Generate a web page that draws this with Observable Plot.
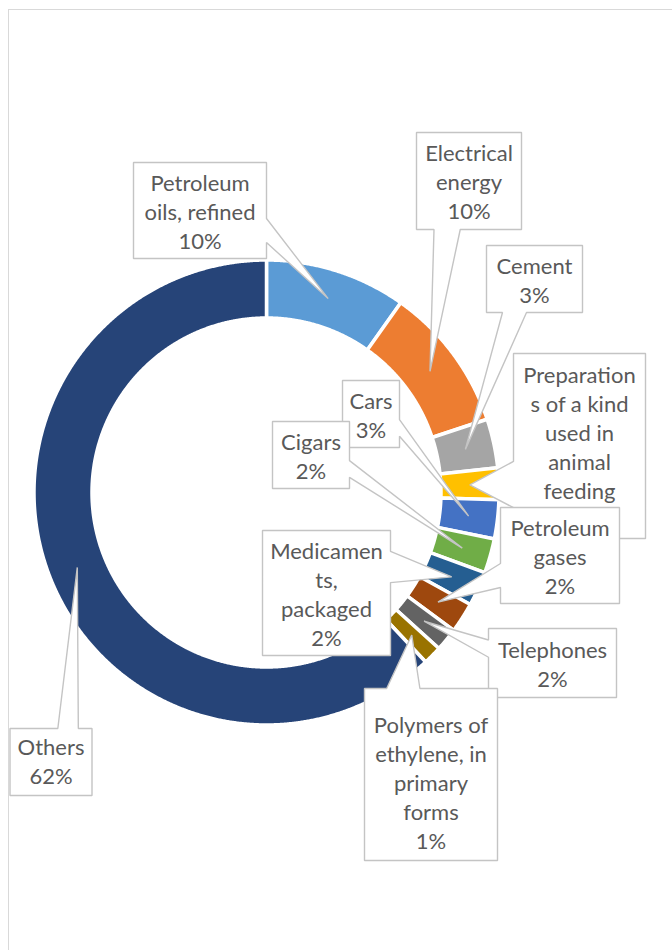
<!DOCTYPE html>
<html><head><meta charset="utf-8">
<script src="https://cdn.jsdelivr.net/npm/d3@7"></script>
<script src="https://cdn.jsdelivr.net/npm/@observablehq/plot@0.6"></script>
<style>
html,body{margin:0;padding:0;background:#fff;}
#wrap{position:relative;width:672px;height:950px;overflow:hidden;}
#frame{position:absolute;left:7.5px;top:8.5px;width:800px;height:1100px;border:1.5px solid #d9d9d9;box-sizing:border-box;}
#chart{position:absolute;left:0;top:0;}
</style></head><body>
<div id="wrap"><div id="frame"></div><div id="chart"></div></div>
<script>
// ---- data ----
const categories = ["Petroleum oils, refined","Electrical energy","Cement","Preparations of a kind used in animal feeding","Cars","Cigars","Medicaments, packaged","Petroleum gases","Telephones","Polymers of ethylene, in primary forms","Others"];
const shares = [9.8, 10.1, 3.4, 2.2, 2.7, 2.4, 2.4, 2.1, 1.6, 1.3, 62.0];
const labelNames = ["Petroleum\noils, refined","Electrical\nenergy","Cement","Preparation\ns of a kind\nused in\nanimal\nfeeding","Cars","Cigars","Medicamen\nts,\npackaged","Petroleum\ngases","Telephones","Polymers of\nethylene, in\nprimary\nforms","Others"];
// the percentage of this label is hidden behind the next callout in the original
const pctHidden = [false, false, false, true, false, false, false, false, false, false, false];
const palette = ["#5B9BD5","#ED7D31","#A5A5A5","#FFC000","#4472C4","#70AD47","#255E91","#9E480E","#636363","#997300","#264478"];

// ---- layout ----
const W = 672, H = 950;
const center = {x: 266, y: 492};
const outerR = 232.5, innerR = 174.5, anchorR = 203.5;
// callout boxes: [left, top, width, height, text shift] in page pixels (manual label placement)
const calloutLayout = [
  [133, 162, 133, 96, 0],
  [416, 132, 105, 97, 0],
  [486, 245, 96, 67, 0],
  [513, 353, 132, 185, 0],
  [342, 380, 57, 67, 0],
  [272, 421, 77, 67, 0],
  [262, 530, 128, 125, 0],
  [500, 507, 119, 96, 0],
  [488, 628, 128, 69, 0],
  [364, 688, 133, 172, 7],
  [9.5, 728, 82, 67, -2]
];

const slices = categories.map((name, i) => ({name, share: shares[i], i}));
const arcs = d3.pie().sort(null).value(d => d.share)(slices);
const pt = (a, r) => [center.x + r * Math.sin(a), center.y - r * Math.cos(a)];

const ringPts = arcs.flatMap(a => {
  const n = Math.max(4, Math.ceil((a.endAngle - a.startAngle) / (Math.PI / 720)));
  const out = [];
  for (let k = 0; k <= n; k++) out.push(pt(a.startAngle + (a.endAngle - a.startAngle) * k / n, outerR));
  for (let k = n; k >= 0; k--) out.push(pt(a.startAngle + (a.endAngle - a.startAngle) * k / n, innerR));
  return out.map(([x, y]) => ({x, y, name: a.data.name}));
});

function callout(l, t, w, h, tx, ty) {
  const hc = l + w / 2, vc = t + h / 2;
  const dxPos = tx - hc, dyPos = ty - vc;
  const dq = dxPos * h / w;
  const dz = Math.abs(dyPos) - Math.abs(dq);
  const x1 = l + w * (dxPos > 0 ? 7 : 2) / 12, x2 = l + w * (dxPos > 0 ? 10 : 5) / 12;
  const y1 = t + h * (dyPos > 0 ? 7 : 2) / 12, y2 = t + h * (dyPos > 0 ? 10 : 5) / 12;
  const r = l + w, b = t + h;
  const p = [[l, t]];
  if (dz > 0 && dyPos < 0) p.push([x1, t], [tx, ty], [x2, t]);
  p.push([r, t]);
  if (dz <= 0 && dxPos > 0) p.push([r, y1], [tx, ty], [r, y2]);
  p.push([r, b]);
  if (dz > 0 && dyPos > 0) p.push([x2, b], [tx, ty], [x1, b]);
  p.push([l, b]);
  if (dz <= 0 && dxPos < 0) p.push([l, y2], [tx, ty], [l, y1]);
  return p.map(([x, y]) => ({x, y}));
}

const labelMarks = arcs.flatMap((a, i) => {
  const mid = (a.startAngle + a.endAngle) / 2;
  const [tx, ty] = pt(mid, anchorR);
  const [l, t, w, h, dy] = calloutLayout[i];
  const pct = Math.round(shares[i]) + "%";
  const text = labelNames[i] + "\n" + (pctHidden[i] ? "" : pct);
  return [
    Plot.line(callout(l, t, w, h, tx, ty), {x: "x", y: "y", curve: "linear-closed", fill: "white", stroke: "#c4c4c4", strokeWidth: 1.4, strokeLinejoin: "miter"}),
    Plot.text([{x: l + w / 2, y: t + h / 2 + dy, text}], {x: "x", y: "y", text: "text", fontSize: 22, lineHeight: 1.32, fill: "#595959", textAnchor: "middle", lineAnchor: "middle"})
  ];
});

const chart = Plot.plot({
  width: W, height: H, margin: 0,
  x: {domain: [0, W], range: [0, W], axis: null},
  y: {domain: [0, H], range: [0, H], axis: null},
  color: {domain: categories, range: palette},
  style: {background: "transparent", fontFamily: "Lato, 'Open Sans', sans-serif"},
  marks: [
    Plot.line(ringPts, {x: "x", y: "y", z: "name", fill: "name", stroke: "white", strokeWidth: 3.5, curve: "linear-closed"}),
    ...labelMarks
  ]
});
document.getElementById("chart").appendChild(chart);
</script>
</body></html>
